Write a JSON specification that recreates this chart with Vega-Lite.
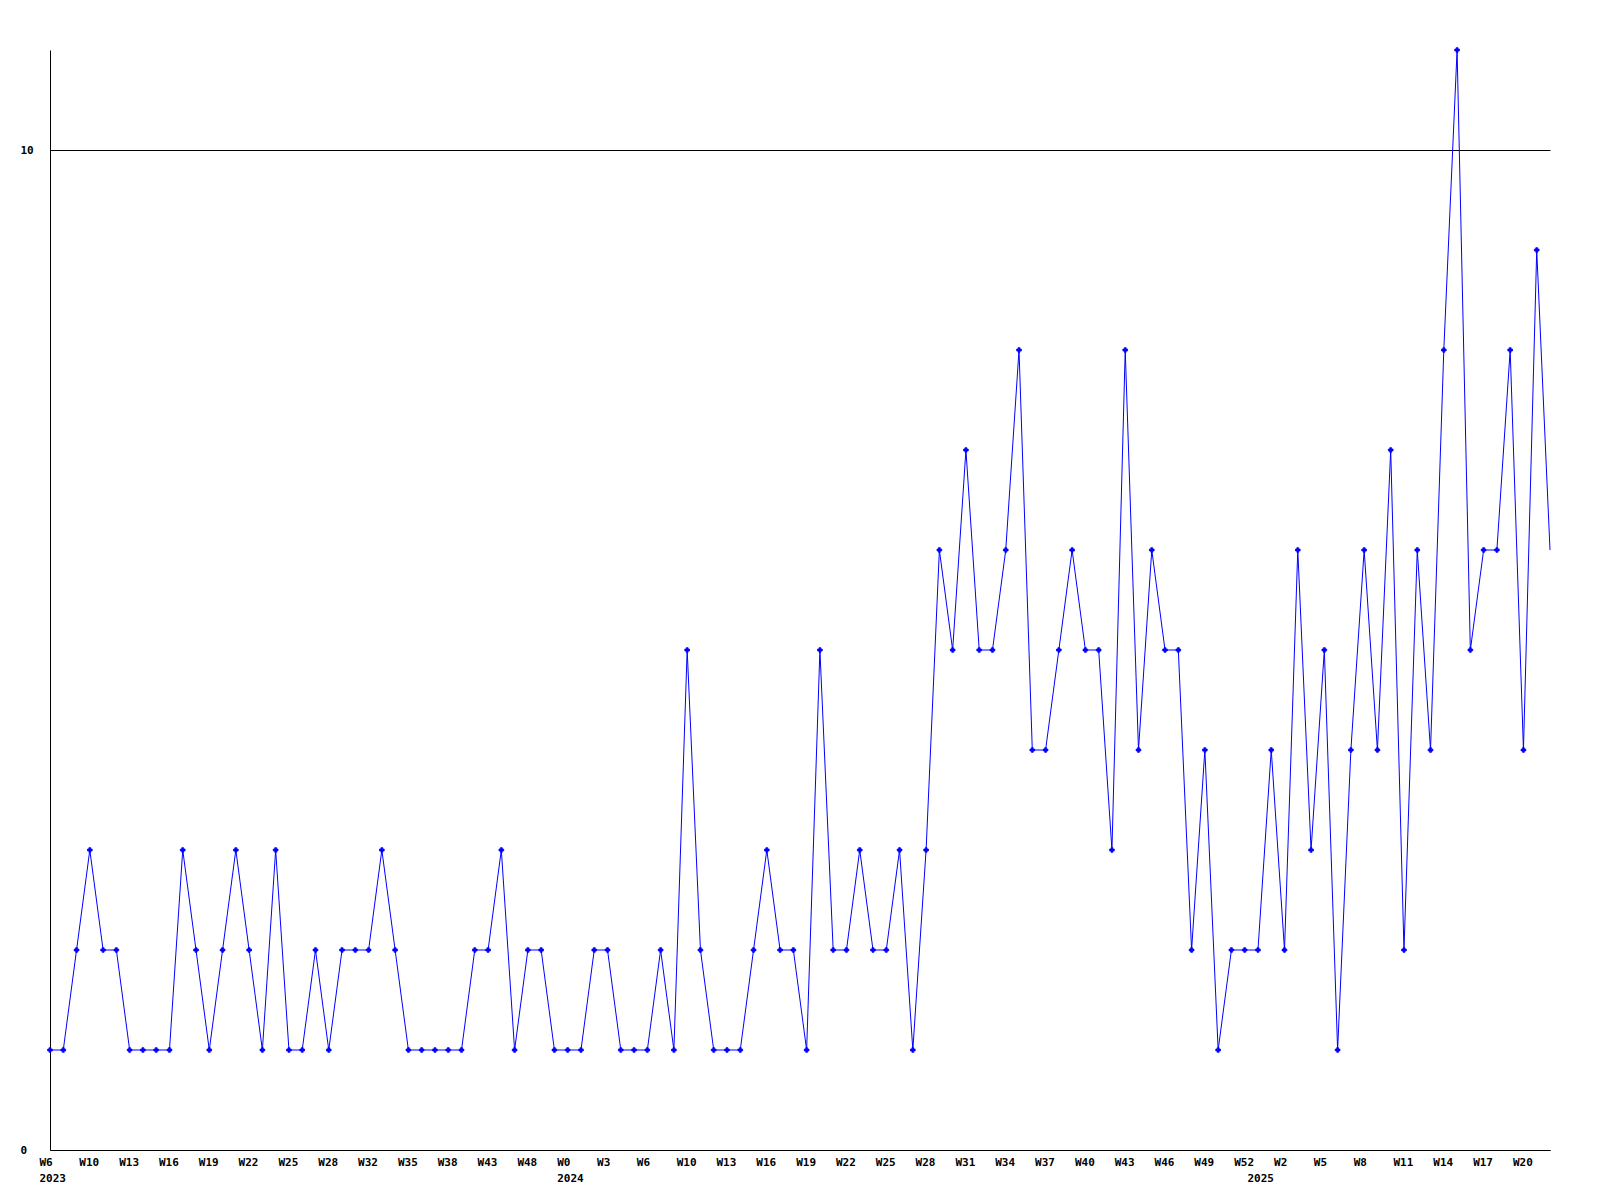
{
  "$schema": "https://vega.github.io/schema/vega-lite/v6.json",
  "width": 1500,
  "height": 1100,
  "autosize": {"type": "none"},
  "padding": {"left": 50, "top": 50, "right": 50, "bottom": 50},
  "background": "white",
  "config": {
    "view": {"stroke": null},
    "axis": {"labelFont": "DejaVu Sans Mono", "labelFontWeight": "bold", "labelFontSize": 11, "labelColor": "black", "domainColor": "black", "domainWidth": 1}
  },
  "data": {"values": [
    {"key":"000|W6|2023","count":1},{"key":"001|W7|","count":1},{"key":"002|W8|","count":2},{"key":"003|W10|","count":3},{"key":"004|W11|","count":2},
    {"key":"005|W12|","count":2},{"key":"006|W13|","count":1},{"key":"007|W14|","count":1},{"key":"008|W15|","count":1},{"key":"009|W16|","count":1},
    {"key":"010|W17|","count":3},{"key":"011|W18|","count":2},{"key":"012|W19|","count":1},{"key":"013|W20|","count":2},{"key":"014|W21|","count":3},
    {"key":"015|W22|","count":2},{"key":"016|W23|","count":1},{"key":"017|W24|","count":3},{"key":"018|W25|","count":1},{"key":"019|W26|","count":1},
    {"key":"020|W27|","count":2},{"key":"021|W28|","count":1},{"key":"022|W30|","count":2},{"key":"023|W31|","count":2},{"key":"024|W32|","count":2},
    {"key":"025|W33|","count":3},{"key":"026|W34|","count":2},{"key":"027|W35|","count":1},{"key":"028|W36|","count":1},{"key":"029|W37|","count":1},
    {"key":"030|W38|","count":1},{"key":"031|W40|","count":1},{"key":"032|W41|","count":2},{"key":"033|W43|","count":2},{"key":"034|W45|","count":3},
    {"key":"035|W46|","count":1},{"key":"036|W48|","count":2},{"key":"037|W50|","count":2},{"key":"038|W51|","count":1},{"key":"039|W0|2024","count":1},
    {"key":"040|W1|","count":1},{"key":"041|W2|","count":2},{"key":"042|W3|","count":2},{"key":"043|W4|","count":1},{"key":"044|W5|","count":1},
    {"key":"045|W6|","count":1},{"key":"046|W7|","count":2},{"key":"047|W9|","count":1},{"key":"048|W10|","count":5},{"key":"049|W11|","count":2},
    {"key":"050|W12|","count":1},{"key":"051|W13|","count":1},{"key":"052|W14|","count":1},{"key":"053|W15|","count":2},{"key":"054|W16|","count":3},
    {"key":"055|W17|","count":2},{"key":"056|W18|","count":2},{"key":"057|W19|","count":1},{"key":"058|W20|","count":5},{"key":"059|W21|","count":2},
    {"key":"060|W22|","count":2},{"key":"061|W23|","count":3},{"key":"062|W24|","count":2},{"key":"063|W25|","count":2},{"key":"064|W26|","count":3},
    {"key":"065|W27|","count":1},{"key":"066|W28|","count":3},{"key":"067|W29|","count":6},{"key":"068|W30|","count":5},{"key":"069|W31|","count":7},
    {"key":"070|W32|","count":5},{"key":"071|W33|","count":5},{"key":"072|W34|","count":6},{"key":"073|W35|","count":8},{"key":"074|W36|","count":4},
    {"key":"075|W37|","count":4},{"key":"076|W38|","count":5},{"key":"077|W39|","count":6},{"key":"078|W40|","count":5},{"key":"079|W41|","count":5},
    {"key":"080|W42|","count":3},{"key":"081|W43|","count":8},{"key":"082|W44|","count":4},{"key":"083|W45|","count":6},{"key":"084|W46|","count":5},
    {"key":"085|W47|","count":5},{"key":"086|W48|","count":2},{"key":"087|W49|","count":4},{"key":"088|W50|","count":1},{"key":"089|W51|","count":2},
    {"key":"090|W52|","count":2},{"key":"091|W0|2025","count":2},{"key":"092|W1|","count":4},{"key":"093|W2|","count":2},{"key":"094|W3|","count":6},
    {"key":"095|W4|","count":3},{"key":"096|W5|","count":5},{"key":"097|W6|","count":1},{"key":"098|W7|","count":4},{"key":"099|W8|","count":6},
    {"key":"100|W9|","count":4},{"key":"101|W10|","count":7},{"key":"102|W11|","count":2},{"key":"103|W12|","count":6},{"key":"104|W13|","count":4},
    {"key":"105|W14|","count":8},{"key":"106|W15|","count":11},{"key":"107|W16|","count":5},{"key":"108|W17|","count":6},{"key":"109|W18|","count":6},
    {"key":"110|W19|","count":8},{"key":"111|W20|","count":4},{"key":"112|W21|","count":9},{"key":"113|W22|","count":6}
  ]},
  "encoding": {
    "x": {
      "field": "key", "type": "ordinal", "sort": null,
      "scale": {"type": "point", "padding": 0},
      "axis": {
        "title": null, "ticks": false, "tickSize": 0, "labelAngle": 0,
        "labelAlign": "left", "labelOffset": -11, "labelPadding": 6, "labelBaseline": "top",
        "labelLineHeight": 16, "labelOverlap": false, "labelBound": false, "grid": false,
        "labelExpr": "[toNumber(split(datum.value,'|')[0]) % 3 == 0 ? split(datum.value,'|')[1] : '', split(datum.value,'|')[2]]"
      }
    },
    "y": {
      "field": "count", "type": "quantitative",
      "scale": {"domain": [0, 11], "nice": false, "zero": true},
      "axis": {
        "title": null, "values": [0, 10], "grid": true, "gridColor": "black", "gridOpacity": 1, "gridWidth": 1,
        "ticks": false, "tickSize": 0, "labelAlign": "left", "labelPadding": 30, "labelBaseline": "middle"
      }
    }
  },
  "layer": [
    {"mark": {"type": "line", "color": "#0000ff", "strokeWidth": 1}},
    {"transform": [{"filter": "datum.key != '113|W22|'"}],
     "mark": {"type": "point", "shape": "cross", "filled": true, "fill": "#0000ff", "stroke": "#0000ff", "strokeWidth": 0.8, "size": 22, "opacity": 1}}
  ]
}
